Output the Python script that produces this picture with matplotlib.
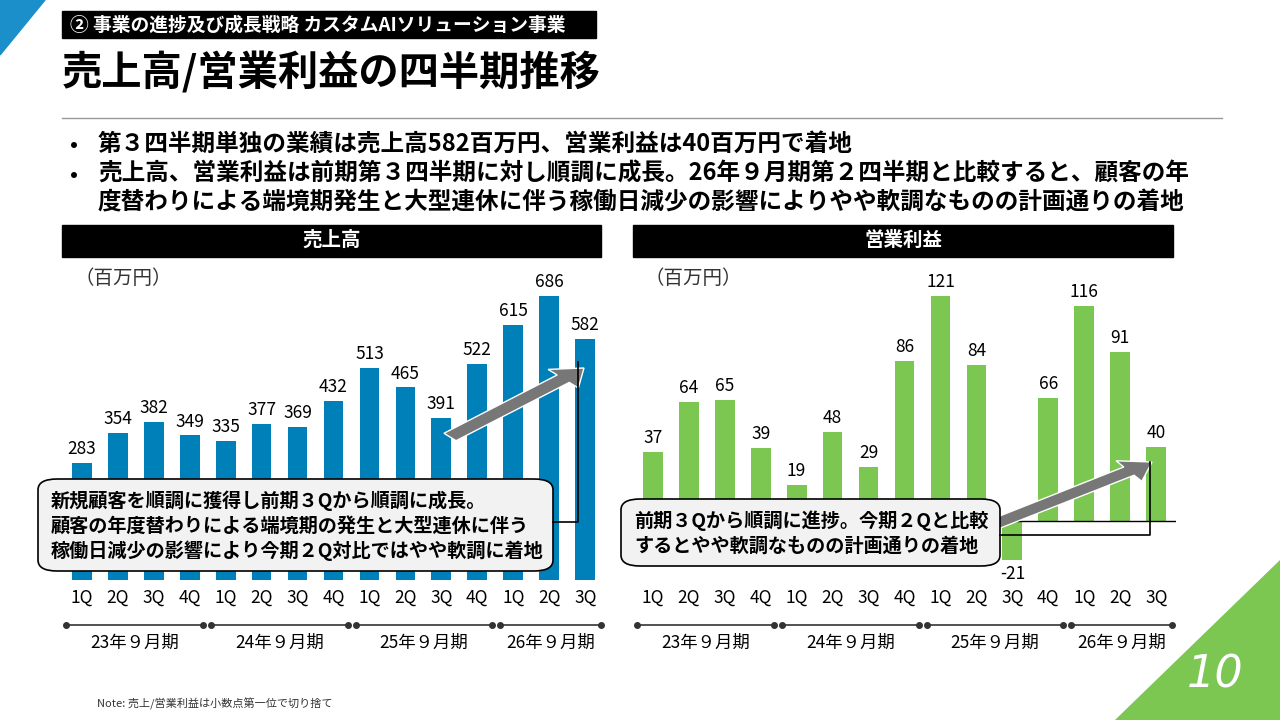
import matplotlib.pyplot as plt
from matplotlib.patches import FancyBboxPatch, Polygon, Rectangle, FancyArrow
from matplotlib.lines import Line2D

plt.rcParams['font.family'] = ['Noto Sans CJK JP', 'DejaVu Sans']

# ── Data ──────────────────────────────────────────────────────────────────────
quarters = ["1Q", "2Q", "3Q", "4Q"] * 3 + ["1Q", "2Q", "3Q"]
periods = ["23年９月期", "24年９月期", "25年９月期", "26年９月期"]
sales = [283, 354, 382, 349, 335, 377, 369, 432, 513, 465, 391, 522, 615, 686, 582]
profit = [37, 64, 65, 39, 19, 48, 29, 86, 121, 84, -21, 66, 116, 91, 40]

BLUE = "#0080B9"
GREEN = "#7CC652"
W, H = 1280, 720

fig = plt.figure(figsize=(12.8, 7.2), dpi=100)

def px(x, y):
    return x / W, 1 - y / H

def box(x0, y0, x1, y1):
    return [x0 / W, 1 - y1 / H, (x1 - x0) / W, (y1 - y0) / H]

# ── Header ────────────────────────────────────────────────────────────────────
fig.patches.append(Polygon([px(0, 0), px(45, 0), px(0, 55)], closed=True,
                           transform=fig.transFigure, color="#1A8FC9"))
fig.patches.append(Polygon([px(1280, 560), px(1280, 720), px(1115, 720)], closed=True,
                           transform=fig.transFigure, color="#7CC652"))
fig.patches.append(Rectangle(px(62, 38), 534 / W, 27 / H, transform=fig.transFigure, color="black"))
fig.text(*px(70, 25), "② 事業の進捗及び成長戦略 カスタムAIソリューション事業", color="white",
         fontsize=13.5, fontweight="bold", va="center")
fig.text(*px(62, 73), "売上高/営業利益の四半期推移", fontsize=29, fontweight="bold", va="center")
fig.add_artist(Line2D([62 / W, 1222 / W], [1 - 118 / H] * 2, color="#999999", lw=1))
bullets = [("•", 70, 144, "第３四半期単独の業績は売上高582百万円、営業利益は40百万円で着地"),
           ("•", 70, 174, "売上高、営業利益は前期第３四半期に対し順調に成長。26年９月期第２四半期と比較すると、顧客の年"),
           ("", 70, 202, "度替わりによる端境期発生と大型連休に伴う稼働日減少の影響によりやや軟調なものの計画通りの着地")]
for b, x, y, t in bullets:
    fig.text(*px(x, y), b, fontsize=15, fontweight="bold", va="center")
    fig.text(*px(98, y), t, fontsize=17, fontweight="bold", va="center")

for x0, x1, title in [(62, 601, "売上高"), (633, 1173, "営業利益")]:
    fig.patches.append(Rectangle(px(x0, 257), (x1 - x0) / W, 32 / H,
                                 transform=fig.transFigure, color="black"))
    fig.text(*px((x0 + x1) / 2, 240), title, color="white", fontsize=14,
             fontweight="bold", ha="center", va="center")
    fig.text(*px(x0 + 12, 278), "（百万円）", fontsize=14, va="center", color="#333333")

# ── Charts ────────────────────────────────────────────────────────────────────
def draw(rect, values, color, ylim, zero_line):
    ax = fig.add_axes(rect)
    xs = range(len(values))
    ax.bar(xs, values, width=0.55, color=color)
    ax.set_xlim(-0.55, len(values) - 0.45)
    ax.set_ylim(*ylim)
    if zero_line:
        ax.axhline(0, color="black", lw=1)
    for x, v in zip(xs, values):
        off = (ylim[1] - ylim[0]) * 0.015
        ax.text(x, v + off if v >= 0 else v - off, str(v), ha="center",
                va="bottom" if v >= 0 else "top", fontsize=12.5)
    ax.set_xticks(list(xs))
    ax.set_xticklabels(quarters, fontsize=12.5)
    ax.tick_params(length=0, pad=6)
    for s in ax.spines.values():
        s.set_visible(False)
    ax.set_yticks([])
    return ax

draw(box(62, 250, 605, 580), sales, BLUE, (0, 797), False)
draw(box(633, 250, 1176, 580), profit, GREEN, (-32, 146), True)

# ── Period timeline ───────────────────────────────────────────────────────────
def timeline(x0, step):
    bounds = [0, 4, 8, 12, 15]
    for i, p in enumerate(periods):
        a = x0 + bounds[i] * step + 4
        b = x0 + bounds[i + 1] * step - 4
        fig.add_artist(Line2D([a / W, b / W], [1 - 625 / H] * 2, color="#333333", lw=1.2,
                              marker="o", markersize=4, markevery=[0, 1]))
        fig.text(*px((a + b) / 2, 643), p, fontsize=12.5, ha="center", va="center")

timeline(62, 543 / 15)
timeline(633, 543 / 15)

# ── Arrows & callouts ─────────────────────────────────────────────────────────
def arrow(x0, y0, x1, y1):
    fig.patches.append(FancyArrow(x0 / W, 1 - y0 / H, (x1 - x0) / W, -(y1 - y0) / H,
                                  width=0.014, head_width=0.035, head_length=0.022,
                                  length_includes_head=True, transform=fig.transFigure,
                                  color="#777777", ec="white", lw=1))

arrow(450, 437, 584, 368)
arrow(995, 524, 1152, 462)

def callout(x0, y0, x1, y1, lines, lx, ly, top):
    fig.patches.append(FancyBboxPatch(px(x0, y1), (x1 - x0) / W, (y1 - y0) / H,
                                      boxstyle="round,pad=0,rounding_size=0.015",
                                      transform=fig.transFigure, fc="#F2F2F2",
                                      ec="black", lw=1.2))
    for i, t in enumerate(lines):
        fig.text(*px(x0 + 13, y0 + 22 + i * 25), t, fontsize=13.8, fontweight="bold", va="center")
    fig.add_artist(Line2D([x1 / W, lx / W, lx / W], [1 - ly / H, 1 - ly / H, 1 - top / H],
                          color="black", lw=1.2))

callout(38, 479, 553, 571, ["新規顧客を順調に獲得し前期３Qから順調に成長。",
                            "顧客の年度替わりによる端境期の発生と大型連休に伴う",
                            "稼働日減少の影響により今期２Q対比ではやや軟調に着地"], 578, 522, 362)
callout(621, 499, 1000, 566, ["前期３Qから順調に進捗。今期２Qと比較",
                              "するとやや軟調なものの計画通りの着地"], 1150, 535, 462)

fig.text(*px(97, 704), "Note: 売上/営業利益は小数点第一位で切り捨て", fontsize=8, va="center", color="#333333")
fig.text(*px(1215, 675), "10", fontsize=32, color="white", style="italic", ha="center", va="center",
         family=["DejaVu Sans"], fontweight="light")

fig.savefig("out.png", dpi=100)
